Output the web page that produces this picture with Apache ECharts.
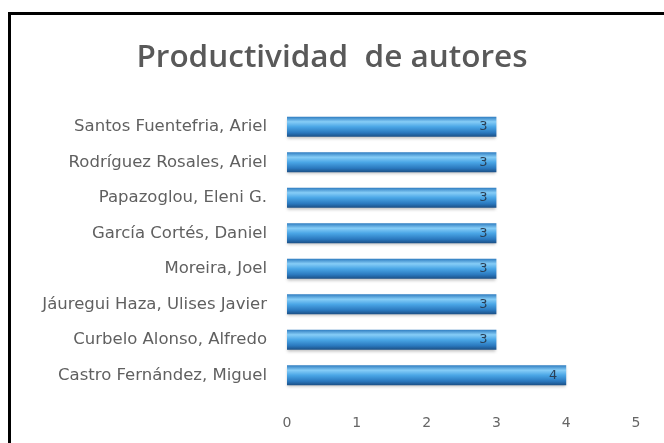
<!DOCTYPE html>
<html>
<head>
<meta charset="utf-8">
<script src="https://cdn.jsdelivr.net/npm/echarts@6/dist/echarts.min.js"></script>
<style>
html,body{margin:0;padding:0;background:#fff;}
#chart{width:664px;height:443px;}
</style>
</head>
<body>
<div id="chart"></div>
<script>
var authors = [
  'Castro Fernández, Miguel',
  'Curbelo Alonso, Alfredo',
  'Jáuregui Haza, Ulises Javier',
  'Moreira, Joel',
  'García Cortés, Daniel',
  'Papazoglou, Eleni G.',
  'Rodríguez Rosales, Ariel',
  'Santos Fuentefria, Ariel'
];
var counts = [4, 3, 3, 3, 3, 3, 3, 3];
var titleText = 'Productividad  de autores';

var chart = echarts.init(document.getElementById('chart'));
chart.setOption({
  backgroundColor: '#ffffff',
  animation: false,
  title: {
    text: titleText,
    left: 'center',
    top: 37,
    textStyle: {
      fontFamily: 'Open Sans',
      fontWeight: 600,
      fontSize: 31.5,
      color: '#595959'
    }
  },
  graphic: [
    {type: 'line', shape: {x1: 8, y1: 13.5, x2: 664, y2: 13.5}, style: {stroke: '#000', lineWidth: 3}},
    {type: 'line', shape: {x1: 9.5, y1: 12, x2: 9.5, y2: 443}, style: {stroke: '#000', lineWidth: 3}}
  ],
  grid: {left: 287, right: 28, top: 109, bottom: 50, containLabel: false},
  xAxis: {
    type: 'value',
    min: 0,
    max: 5,
    interval: 1,
    axisLine: {show: false},
    axisTick: {show: false},
    splitLine: {show: false},
    axisLabel: {
      margin: 23,
      color: '#666666',
      fontFamily: 'DejaVu Sans',
      fontSize: 14
    }
  },
  yAxis: {
    type: 'category',
    data: authors,
    axisLine: {show: false},
    axisTick: {show: false},
    axisLabel: {
      margin: 20,
      color: '#606060',
      fontFamily: 'DejaVu Sans',
      fontSize: 16.5
    }
  },
  series: [{
    type: 'bar',
    data: counts,
    barWidth: 20,
    itemStyle: {
      color: new echarts.graphic.LinearGradient(0, 0, 0, 1, [
        {offset: 0, color: '#2e7cc0'},
        {offset: 0.25, color: '#86cdf7'},
        {offset: 0.5, color: '#4aa6e6'},
        {offset: 0.8, color: '#2a78be'},
        {offset: 1, color: '#1b4f85'}
      ]),
      shadowColor: 'rgba(0,0,0,0.25)',
      shadowBlur: 3,
      shadowOffsetY: 2
    },
    label: {
      show: true,
      position: 'insideRight',
      offset: [-4, 0],
      color: '#2a3f55',
      fontFamily: 'DejaVu Sans',
      fontSize: 13
    }
  }]
});
</script>
</body>
</html>
